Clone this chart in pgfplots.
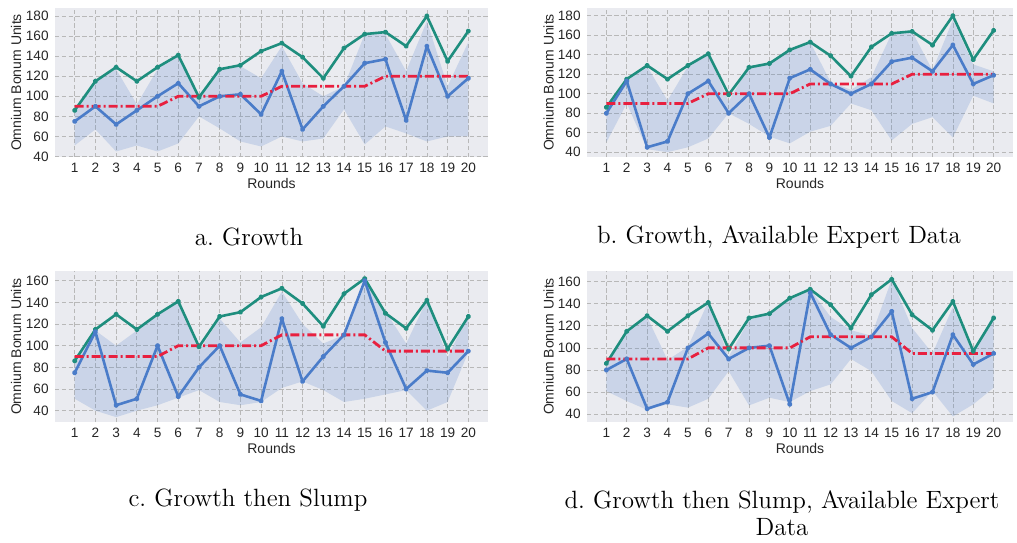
\documentclass[border=0pt]{standalone}
\usepackage{pgfplots}
\pgfplotsset{compat=1.18}
\usepackage{pgfplotstable}
\usepgfplotslibrary{fillbetween}
\usepackage{fontspec}
\newfontfamily\arial{Liberation Sans}
\definecolor{gline}{HTML}{1E8E7E}
\definecolor{bline}{HTML}{4A7CC9}
\definecolor{rline}{HTML}{E8203F}
\definecolor{bgc}{HTML}{EAEBF0}
\definecolor{labc}{HTML}{262626}

% x green blue red up lo
\pgfplotstableread{
x g b r up lo
1 86 75 90 86 51
2 115 90 90 115 67
3 129 72 90 127 45
4 115 86 90 92 51
5 129 100 90 127 45
6 141 113 100 140 53
7 99 90 100 100 80
8 127 100 100 126 68
9 131 102 100 130 55
10 145 82 100 118 50
11 153 125 110 150 60
12 139 67 110 113 55
13 118 90 110 100 58
14 148 110 110 110 87
15 162 133 110 162 52
16 164 137 120 162 70
17 150 76 120 125 63
18 180 150 120 175 55
19 135 100 120 110 60
20 165 118 120 154 60
}\dataA
\pgfplotstableread{
x g b r up lo
1 86 80 90 85 50
2 115 113 90 113 90
3 129 45 90 128 43
4 115 51 90 93 40
5 129 100 90 128 45
6 141 113 100 141 54
7 99 80 100 92 80
8 127 100 100 128 69
9 131 55 100 131 56
10 145 116 100 145 49
11 153 125 110 153 61
12 139 110 110 112 67
13 118 100 110 104 90
14 148 110 110 117 83
15 162 133 110 162 52
16 164 137 120 164 69
17 150 123 120 124 76
18 180 150 120 176 55
19 135 110 120 130 98
20 165 119 120 123 90
}\dataB
\pgfplotstableread{
x g b r up lo
1 86 75 90 84 51
2 115 113 90 114 40
3 129 45 90 100 34
4 115 51 90 114 40
5 129 100 90 130 45
6 141 53 100 141 52
7 99 80 100 95 59
8 127 100 100 125 48
9 131 55 100 103 45
10 145 49 100 117 48
11 153 125 110 150 61
12 139 67 110 120 67
13 118 90 110 102 59
14 148 110 110 110 48
15 162 160 110 163 51
16 130 103 95 132 55
17 116 60 95 102 59
18 142 77 95 142 40
19 97 75 95 89 48
20 127 95 95 129 94
}\dataC
\pgfplotstableread{
x g b r up lo
1 86 80 90 85 61
2 115 90 90 116 52
3 129 45 90 128 44
4 115 51 90 89 49
5 129 100 90 101 46
6 141 113 100 142 54
7 99 90 100 92 79
8 127 100 100 125 48
9 131 102 100 131 55
10 145 49 100 145 51
11 153 150 110 153 61
12 139 112 110 128 67
13 118 100 110 116 90
14 148 110 110 111 79
15 162 133 110 162 52
16 130 54 95 118 41
17 116 60 95 95 61
18 142 112 95 137 38
19 97 85 95 95 49
20 127 95 95 131 64
}\dataD

\pgfplotsset{
  panel/.style={
    scale only axis, anchor=north west,
    xmin=0.05, xmax=20.95, xtick={1,...,20},
    axis background/.style={fill=bgc},
    axis line style={draw=none},
    grid=major,
    major grid style={dash pattern=on 2.2pt off 1.2pt, draw=black!28, line width=0.35pt},
    tick style={draw=none},
    ticklabel style={font=\arial\fontsize{6.8}{8}\selectfont, text=labc, inner sep=1pt},
    xticklabel style={yshift=-2pt},
    yticklabel style={xshift=-2pt},
    /pgf/number format/assume math mode=true,
    xlabel={Rounds}, ylabel={Omnium Bonum Units},
    label style={font=\arial\fontsize{7}{8}\selectfont, text=labc},
    xlabel style={at={(axis description cs:0.5,0)}, anchor=center, yshift=-13pt},
    ylabel style={at={(axis description cs:-0.09,0.5)}, anchor=center},
  },
  band/.style={fill=bline, fill opacity=0.2, draw=none},
  gl/.style={gline, line width=1.3pt, line join=round, mark=*, mark size=0.7pt, mark options={fill=gline!75!white, draw=none}},
  bl/.style={bline, line width=1.3pt, line join=round, mark=*, mark size=0.7pt, mark options={fill=bline!75!white, draw=none}},
  rl/.style={rline, line width=1.4pt, dash pattern=on 4.5pt off 1.5pt on 1pt off 1.5pt},
}

\newcommand{\panelplots}[1]{%
  \addplot[name path=U, draw=none, forget plot] table[x=x, y=up] {#1};
  \addplot[name path=L, draw=none, forget plot] table[x=x, y=lo] {#1};
  \addplot[band] fill between[of=U and L];
  \addplot[gl] table[x=x, y=g] {#1};
  \addplot[bl] table[x=x, y=b] {#1};
  \addplot[rl] table[x=x, y=r] {#1};
}

\begin{document}
\begin{tikzpicture}
\path (0pt,0pt) rectangle (508.5pt,-269.5pt);

\begin{axis}[panel, at={(27.5pt,-4pt)}, width=216.5pt, height=74.5pt,
  ymin=39.5, ymax=188, ytick={40,60,...,180}]
\panelplots{\dataA}
\end{axis}

\begin{axis}[panel, at={(293.5pt,-4pt)}, width=213pt, height=74.5pt,
  ymin=35, ymax=188, ytick={40,60,...,180}]
\panelplots{\dataB}
\end{axis}

\begin{axis}[panel, at={(27.5pt,-135.5pt)}, width=216.5pt, height=75.5pt,
  ymin=29.5, ymax=169, ytick={40,60,...,160}]
\panelplots{\dataC}
\end{axis}

\begin{axis}[panel, at={(293.5pt,-135.5pt)}, width=213pt, height=75.5pt,
  ymin=33, ymax=169.5, ytick={40,60,...,160}]
\panelplots{\dataD}
\end{axis}

\node[font=\fontsize{12.5}{13}\selectfont] at (124.5pt,-118.5pt) {a.~Growth};
\node[font=\fontsize{12.5}{13}\selectfont] at (389.5pt,-118.5pt) {b.~Growth, Available Expert Data};
\node[font=\fontsize{12.5}{13}\selectfont] at (124pt,-250pt) {c.~Growth then Slump};
\node[font=\fontsize{12.5}{13}\selectfont, align=center] at (391pt,-256.5pt) {d.~Growth then Slump, Available Expert\\[0.3pt]Data};
\end{tikzpicture}
\end{document}
